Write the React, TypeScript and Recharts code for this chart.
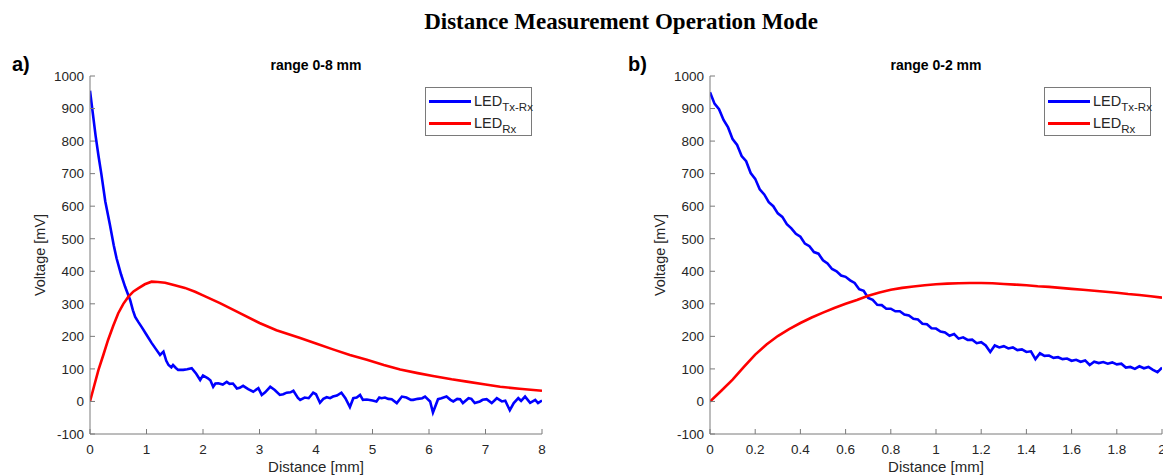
import React from 'react';
import { LineChart, Line, XAxis, YAxis } from 'recharts';

const FONT = '"Liberation Sans", Arial, Helvetica, sans-serif';
const BLUE = '#0000ff';
const RED = '#ff0000';
const AXIS = '#7a7a7a';

const voltageTicks = [-100, 0, 100, 200, 300, 400, 500, 600, 700, 800, 900, 1000];
const leftDistanceTicks = [0, 1, 2, 3, 4, 5, 6, 7, 8];
const rightDistanceTicks = [0, 0.2, 0.4, 0.6, 0.8, 1, 1.2, 1.4, 1.6, 1.8, 2];

// panel a) range 0-8 mm, [distance, mV]
const leftTxRx: [number, number][] = [
  [0, 955], [0.05, 885], [0.1, 815], [0.15, 755], [0.2, 700], [0.27, 615], [0.35, 545],
  [0.42, 480], [0.47, 440], [0.55, 390], [0.62, 353], [0.67, 330], [0.71, 312], [0.76, 280],
  [0.8, 260], [0.86, 243], [0.91, 230], [1.0, 205], [1.09, 180], [1.17, 160], [1.24, 143],
  [1.3, 153], [1.35, 125], [1.39, 112], [1.44, 105], [1.47, 112], [1.52, 103], [1.56, 97],
  [1.65, 97], [1.72, 99], [1.8, 102], [1.88, 85], [1.95, 66], [2.0, 80], [2.08, 72],
  [2.13, 65], [2.18, 45], [2.22, 55], [2.27, 56], [2.35, 52], [2.42, 60], [2.47, 54],
  [2.53, 55], [2.6, 40], [2.65, 42], [2.71, 48], [2.8, 38], [2.89, 30], [2.98, 41],
  [3.04, 20], [3.1, 28], [3.19, 45], [3.27, 35], [3.36, 20], [3.42, 22], [3.48, 27],
  [3.55, 28], [3.6, 33], [3.68, 11], [3.72, 5], [3.8, 12], [3.87, 10], [3.95, 27],
  [4.0, 22], [4.07, -4], [4.13, 8], [4.19, 13], [4.25, 10], [4.3, 15], [4.37, 18],
  [4.45, 27], [4.52, 10], [4.6, -17], [4.66, 10], [4.72, 12], [4.78, 20], [4.83, 5],
  [4.9, 6], [5.0, 3], [5.07, 0], [5.12, 12], [5.16, 10], [5.22, 12], [5.28, 8],
  [5.34, 7], [5.43, -5], [5.52, 15], [5.6, 12], [5.68, 5], [5.72, 5], [5.8, 8],
  [5.88, 10], [5.93, 15], [6.02, 0], [6.07, -34], [6.16, 7], [6.22, 10], [6.31, 15],
  [6.38, 5], [6.43, 0], [6.5, 8], [6.55, 7], [6.6, -5], [6.7, 10], [6.75, 8],
  [6.81, -5], [6.9, 0], [6.95, 5], [7.02, 7], [7.11, -5], [7.2, 10], [7.29, 0],
  [7.35, 2], [7.43, -27], [7.5, -5], [7.58, 10], [7.63, 2], [7.7, 15], [7.79, -4],
  [7.88, 5], [7.93, -5], [8.0, 3],
];

const leftRx: [number, number][] = [
  [0, 0], [0.08, 52], [0.15, 97], [0.24, 145], [0.32, 189], [0.41, 232], [0.5, 271],
  [0.59, 300], [0.68, 322], [0.77, 338], [0.86, 348], [0.97, 360], [1.09, 368], [1.2, 367],
  [1.33, 365], [1.5, 357], [1.68, 349], [1.86, 337], [2.0, 326], [2.3, 302], [2.6, 276],
  [3.0, 241], [3.3, 219], [3.72, 195], [4.0, 178], [4.3, 160], [4.6, 143], [4.9, 128],
  [5.2, 112], [5.49, 98], [5.8, 87], [6.07, 78], [6.4, 68], [6.67, 61], [7.0, 52],
  [7.26, 45], [7.6, 39], [8.0, 33],
];

// panel b) range 0-2 mm, sampled every 0.02 mm / 0.05 mm
const rightTxRxStep = 0.02;
const rightTxRx = [
  950, 915, 898, 865, 842, 806, 788, 754, 738, 702,
  684, 652, 636, 612, 600, 578, 567, 545, 532, 515,
  506, 485, 477, 459, 454, 434, 424, 407, 400, 387,
  383, 372, 364, 345, 340, 318, 312, 297, 296, 285,
  285, 277, 277, 267, 264, 254, 252, 239, 237, 225,
  224, 215, 212, 202, 207, 193, 197, 189, 190, 179,
  182, 172, 152, 172, 166, 170, 163, 166, 158, 160,
  152, 154, 130, 148, 140, 141, 134, 136, 130, 132,
  125, 128, 122, 126, 112, 122, 118, 121, 116, 120,
  114, 116, 104, 106, 100, 108, 102, 106, 97, 90,
  104,
];

const rightRxStep = 0.05;
const rightRx = [
  0, 33, 67, 106, 144, 175, 201, 222, 241, 258,
  273, 287, 300, 312, 325, 335, 343, 349, 353, 357,
  360, 362, 363, 364, 364, 363, 361, 359, 357, 354,
  352, 349, 346, 343, 340, 337, 334, 330, 327, 323,
  319,
];

const pairs = (list: [number, number][]) => list.map(([x, v]) => ({ x, v }));
const stepped = (list: number[], step: number) =>
  list.map((v, i) => ({ x: Math.round(i * step * 1000) / 1000, v }));

const legendItems = [
  { color: BLUE, sub: 'Tx-Rx' },
  { color: RED, sub: 'Rx' },
];

const LegendBox = ({ left }: { left: number }) => (
  <div
    style={{
      position: 'absolute', left, top: 87, width: 107, height: 49, boxSizing: 'border-box',
      border: `1px solid ${AXIS}`, background: '#fff', fontFamily: FONT, color: '#262626',
    }}
  >
    {legendItems.map((item, i) => (
      <div
        key={item.sub}
        style={{ position: 'absolute', left: 3, top: 4 + i * 22, height: 18, display: 'flex', alignItems: 'center' }}
      >
        <div style={{ width: 42, height: 3, background: item.color }} />
        <span style={{ marginLeft: 3, fontSize: 14.5, lineHeight: '18px', whiteSpace: 'nowrap' }}>
          LED<span style={{ fontSize: 11.5, position: 'relative', top: 5 }}>{item.sub}</span>
        </span>
      </div>
    ))}
  </div>
);

interface PanelProps {
  left: number;
  width: number;
  marginLeft: number;
  marginRight: number;
  domain: [number, number];
  ticks: number[];
  title: string;
  titleCenter: number;
  tag: string;
  tagLeft: number;
  legendLeft: number;
  txrx: { x: number; v: number }[];
  rx: { x: number; v: number }[];
}

const tickStyle = { fontSize: 13.5, fill: '#262626', fontFamily: FONT };

const Panel = (p: PanelProps) => (
  <>
    <div style={{ position: 'absolute', left: p.left, top: 0 }}>
      <LineChart
        width={p.width}
        height={476}
        margin={{ top: 76, right: p.marginRight, bottom: 12, left: p.marginLeft }}
      >
        <XAxis
          xAxisId="bottom"
          dataKey="x"
          type="number"
          domain={p.domain}
          ticks={p.ticks}
          allowDataOverflow
          height={30}
          tickSize={-5}
          tickMargin={15}
          stroke={AXIS}
          tick={tickStyle}
          interval={0}
          label={{ value: 'Distance [mm]', position: 'bottom', offset: -3, fontSize: 15, fill: '#262626', fontFamily: FONT }}
        />
        <XAxis
          xAxisId="top"
          orientation="top"
          dataKey="x"
          type="number"
          domain={p.domain}
          ticks={p.ticks}
          allowDataOverflow
          height={0}
          tickSize={-5}
          stroke={AXIS}
          tick={false}
          interval={0}
        />
        <YAxis
          yAxisId="left"
          type="number"
          domain={[-100, 1000]}
          ticks={voltageTicks}
          allowDataOverflow
          width={60}
          tickSize={-5}
          tickMargin={11}
          stroke={AXIS}
          tick={tickStyle}
          interval={0}
          label={{
            value: 'Voltage [mV]', angle: -90, position: 'insideLeft', offset: 10,
            fontSize: 14.5, fill: '#262626', fontFamily: FONT, style: { textAnchor: 'middle' },
          }}
        />
        <YAxis
          yAxisId="right"
          orientation="right"
          type="number"
          domain={[-100, 1000]}
          ticks={voltageTicks}
          allowDataOverflow
          width={0}
          tickSize={-5}
          stroke={AXIS}
          tick={false}
          interval={0}
        />
        <Line
          xAxisId="bottom"
          yAxisId="left"
          data={p.txrx}
          dataKey="v"
          type="linear"
          stroke={BLUE}
          strokeWidth={2.6}
          dot={false}
          isAnimationActive={false}
        />
        <Line
          xAxisId="bottom"
          yAxisId="left"
          data={p.rx}
          dataKey="v"
          type="linear"
          stroke={RED}
          strokeWidth={2.6}
          dot={false}
          isAnimationActive={false}
        />
      </LineChart>
    </div>
    <div
      style={{
        position: 'absolute', left: p.titleCenter, top: 57, transform: 'translateX(-50%)', whiteSpace: 'nowrap',
        fontFamily: FONT, fontWeight: 'bold', fontSize: 14, lineHeight: '16px', color: '#000',
      }}
    >
      {p.title}
    </div>
    <div
      style={{
        position: 'absolute', left: p.tagLeft, top: 53, fontFamily: FONT, fontWeight: 'bold',
        fontSize: 20, color: '#000',
      }}
    >
      {p.tag}
    </div>
    <LegendBox left={p.legendLeft} />
  </>
);

export default function App() {
  return (
    <div style={{ position: 'absolute', left: 0, top: 0, width: 1163, height: 476, background: '#fff', overflow: 'hidden' }}>
      <div
        style={{
          position: 'absolute', left: 621, top: 8, transform: 'translateX(-50%)', whiteSpace: 'nowrap',
          fontFamily: '"Liberation Serif", "Times New Roman", serif', fontWeight: 'bold', fontSize: 23,
          lineHeight: '28px', color: '#000',
        }}
      >
        Distance Measurement Operation Mode
      </div>
      <Panel
        left={0}
        width={581}
        marginLeft={30}
        marginRight={39}
        domain={[0, 8]}
        ticks={leftDistanceTicks}
        title="range 0-8 mm"
        titleCenter={316}
        tag="a)"
        tagLeft={12}
        legendLeft={425}
        txrx={pairs(leftTxRx)}
        rx={pairs(leftRx)}
      />
      <Panel
        left={581}
        width={582}
        marginLeft={69}
        marginRight={1}
        domain={[0, 2]}
        ticks={rightDistanceTicks}
        title="range 0-2 mm"
        titleCenter={936}
        tag="b)"
        tagLeft={628}
        legendLeft={1044}
        txrx={stepped(rightTxRx, rightTxRxStep)}
        rx={stepped(rightRx, rightRxStep)}
      />
    </div>
  );
}
